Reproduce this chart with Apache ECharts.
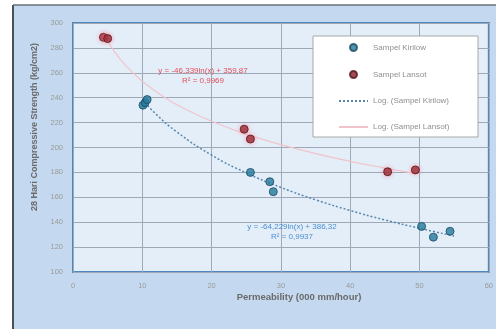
<!DOCTYPE html>
<html><head><meta charset="utf-8">
<script src="https://cdn.jsdelivr.net/npm/echarts@6/dist/echarts.min.js"></script>
<style>html,body{margin:0;padding:0;background:#fff;}#c{width:496px;height:329px;}</style>
</head><body><div id="c"></div>
<script>
// Sampel Kirilow (blue)
const kiriX = [10.1, 10.4, 10.7, 25.6, 28.4, 28.9, 50.3, 52.0, 54.4];
const kiriY = [234, 236, 238.5, 180, 172.5, 164.5, 136.6, 128, 132.7];
// Sampel Lansot (red)
const lansX = [4.4, 5.0, 24.7, 25.6, 45.4, 49.4];
const lansY = [288.5, 287.5, 214.7, 206.8, 180.5, 182];
// Trend lines
const kiriTrendX = [10, 12, 15, 20, 25, 30, 35, 40, 45, 50, 55];
const kiriTrendY = [238.4, 226.7, 212.4, 193.9, 179.6, 167.9, 158.0, 149.4, 141.8, 135.1, 128.9];
const lansTrendX = [4.4, 6, 8, 10, 13, 16, 20, 25, 30, 35, 40, 45, 49.4];
const lansTrendY = [291.2, 276.8, 263.5, 253.2, 241.0, 231.4, 221.1, 210.7, 202.3, 195.1, 188.9, 183.5, 179.2];
const seriesNames = ['Sampel Kirilow', 'Sampel Lansot', 'Log. (Sampel Kirilow)', 'Log. (Sampel Lansot)'];
const kiriEq = ['y = -64,229ln(x) + 386,32', 'R² = 0,9937'];
const lansEq = ['y = -46,339ln(x) + 359,87', 'R² = 0,9969'];
const yTitle = '28 Hari Compressive Strength (kg/cm2)';
const xTitle = 'Permeability (000 mm/hour)';

const zip = (a, b) => a.map((v, i) => [v, b[i]]);
const FONT = 'Liberation Sans';
const chart = echarts.init(document.getElementById('c'), null, {renderer: 'canvas'});
chart.setOption({
  animation: false,
  backgroundColor: 'transparent',
  textStyle: {fontFamily: FONT},
  graphic: [
    {type: 'rect', shape: {x: 13, y: 5, width: 483, height: 324}, style: {fill: '#c4d9ef'}, z: -10},
    {type: 'line', shape: {x1: 13, y1: 5, x2: 13, y2: 329}, style: {stroke: '#4a4f58', lineWidth: 2}, z: -9},
    {type: 'line', shape: {x1: 13, y1: 5, x2: 496, y2: 5}, style: {stroke: '#6a6f78', lineWidth: 1.5}, z: -9},
    {type: 'rect', shape: {x: 313, y: 36, width: 165, height: 101}, style: {fill: '#ffffff', stroke: '#a8a8a8', lineWidth: 1}, z: 5},
    {type: 'text', x: 203, y: 71, style: {text: lansEq[0], fill: '#e0505a', font: '8px ' + FONT, align: 'center', verticalAlign: 'middle'}, z: 6},
    {type: 'text', x: 203, y: 81, style: {text: lansEq[1], fill: '#e0505a', font: '8px ' + FONT, align: 'center', verticalAlign: 'middle'}, z: 6},
    {type: 'text', x: 292, y: 227, style: {text: kiriEq[0], fill: '#4a8fd0', font: '8px ' + FONT, align: 'center', verticalAlign: 'middle'}, z: 6},
    {type: 'text', x: 292, y: 237, style: {text: kiriEq[1], fill: '#4a8fd0', font: '8px ' + FONT, align: 'center', verticalAlign: 'middle'}, z: 6},
    {type: 'text', x: 35, y: 127, rotation: Math.PI / 2, style: {text: yTitle, fill: '#6a6a6a', font: 'bold 9px ' + FONT, align: 'center', verticalAlign: 'middle'}, z: 6},
    {type: 'text', x: 299, y: 297, style: {text: xTitle, fill: '#6a6a6a', font: 'bold 9.5px ' + FONT, align: 'center', verticalAlign: 'middle'}, z: 6}
  ],
  grid: {left: 73, top: 23, right: 4, bottom: 57, show: true, backgroundColor: '#e4eef9', borderColor: '#4f86bd', borderWidth: 2},
  legend: {
    left: 333, top: 38, orient: 'vertical', itemWidth: 29, itemHeight: 7, itemGap: 18,
    textStyle: {color: '#8f8f8f', fontSize: 8, fontFamily: FONT},
    z: 7,
    data: [
      {name: seriesNames[0], icon: 'circle'},
      {name: seriesNames[1], icon: 'circle'},
      {name: seriesNames[2], itemStyle: {opacity: 0}},
      {name: seriesNames[3], itemStyle: {opacity: 0}}
    ]
  },
  xAxis: {
    type: 'value', min: 0, max: 60, interval: 10,
    axisLine: {show: false}, axisTick: {show: false},
    axisLabel: {color: '#9a9a9a', fontSize: 7.5, margin: 10},
    splitLine: {show: true, lineStyle: {color: '#9ea8b6', width: 1}}
  },
  yAxis: {
    type: 'value', min: 100, max: 300, interval: 20,
    axisLine: {show: false}, axisTick: {show: false},
    axisLabel: {color: '#9a9a9a', fontSize: 7.5, margin: 10},
    splitLine: {show: true, lineStyle: {color: '#9ea8b6', width: 1}}
  },
  series: [
    {name: seriesNames[0], type: 'scatter', data: zip(kiriX, kiriY), symbolSize: 8, z: 4,
     itemStyle: {color: '#23799c', borderColor: '#1a4a60', borderWidth: 1}},
    {name: seriesNames[1], type: 'scatter', data: zip(lansX, lansY), symbolSize: 8, z: 4,
     itemStyle: {color: '#8e1f2b', borderColor: '#55141c', borderWidth: 1, shadowBlur: 4, shadowColor: 'rgba(255,140,150,0.8)'}},
    {name: seriesNames[2], type: 'line', data: zip(kiriTrendX, kiriTrendY), smooth: true, symbol: 'none', z: 3,
     itemStyle: {color: '#5a88ad'}, lineStyle: {color: '#5a88ad', width: 1.5, type: [2, 2]}},
    {name: seriesNames[3], type: 'line', data: zip(lansTrendX, lansTrendY), smooth: true, symbol: 'none', z: 3,
     itemStyle: {color: '#f0c4ca'}, lineStyle: {color: '#f0c4ca', width: 1.2}}
  ]
});
</script></body></html>
